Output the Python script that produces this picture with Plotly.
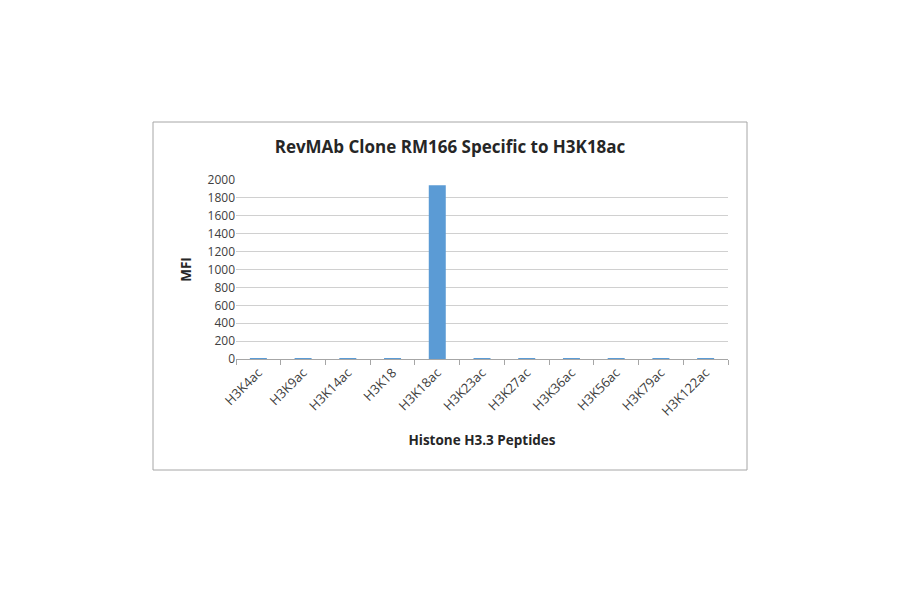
import plotly.graph_objects as go

categories = ["H3K4ac", "H3K9ac", "H3K14ac", "H3K18", "H3K18ac", "H3K23ac",
              "H3K27ac", "H3K36ac", "H3K56ac", "H3K79ac", "H3K122ac"]
mfi = [8, 7, 8, 7, 1940, 7, 8, 7, 8, 7, 8]
y_ticks = [0, 200, 400, 600, 800, 1000, 1200, 1400, 1600, 1800, 2000]

OFF = 8  # page body margin
L, R, T, B = 236 - OFF, 728 - OFF, 180 - OFF, 359 - OFF
W, H = 900, 594
pw, ph = R - L, B - T

def px(x):
    return (x - OFF - L) / pw

def py(y):
    return (B - (y - OFF)) / ph

font = "Open Sans, Liberation Sans, sans-serif"

fig = go.Figure(go.Bar(x=categories, y=mfi, marker=dict(color="#5b9bd5", line=dict(width=0)), width=0.38))

fig.update_layout(
    width=W, height=H,
    margin=dict(l=L, r=W - R, t=T, b=H - B),
    paper_bgcolor="white", plot_bgcolor="white",
    showlegend=False,
    font=dict(family=font, color="#404040", size=11),
    title=dict(text="<b>RevMAb Clone RM166 Specific to H3K18ac</b>", x=(450 - OFF) / W, xanchor="center",
               y=1 - (147 - OFF) / H, yanchor="middle", font=dict(size=17, color="#262626")),
    xaxis=dict(tickangle=-45, ticks="outside", tickson="boundaries", ticklen=5, tickcolor="#a6a6a6",
               showline=True, linecolor="#a6a6a6", linewidth=1, showgrid=False,
               tickfont=dict(size=13, color="#404040"),
               title=dict(text="<b>Histone H3.3 Peptides</b>", font=dict(size=13.5, color="#262626"), standoff=17)),
    yaxis=dict(range=[0, 2000], tickvals=y_ticks, showgrid=True, gridcolor="#d0d0d0", gridwidth=1,
               zeroline=False, showline=False, ticks="", tickfont=dict(size=12, color="#404040"),
               title=dict(text="<b>MFI</b>", font=dict(size=13.5, color="#262626"), standoff=12)),
    shapes=[dict(type="rect", xref="paper", yref="paper",
                 x0=px(153), x1=px(747), y0=py(470), y1=py(122),
                 line=dict(color="#a6a6a6", width=1), fillcolor="rgba(0,0,0,0)", layer="below")],
)

fig.write_html("out.html")
